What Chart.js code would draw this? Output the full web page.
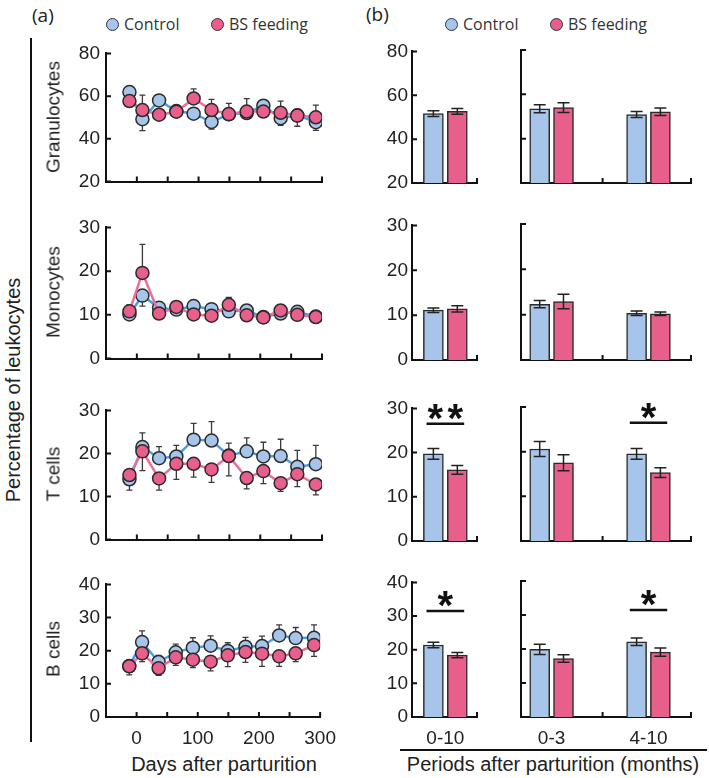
<!DOCTYPE html>
<html>
<head>
<meta charset="utf-8">
<script src="https://cdn.jsdelivr.net/npm/chart.js@4.4.1/dist/chart.umd.min.js"></script>
<style>
  body { margin: 0; background: #fff; }
  #fig { position: relative; width: 709px; height: 778px; overflow: hidden;
         font-family: "Liberation Sans", Arial, sans-serif; color: #222; }
  #fig canvas { position: absolute; }
  .txt { position: absolute; white-space: nowrap; line-height: 1; }
  .rot { position: absolute; white-space: nowrap; line-height: 1;
         transform: translate(-50%, -50%) rotate(-90deg); }
  .leg { position: absolute; display: flex; align-items: center; height: 20px;
         font-family: "Open Sans", sans-serif; font-size: 16px; color: #333; }
  .dot { width: 11px; height: 11px; border-radius: 50%; border: 1.5px solid #333; margin-right: 5px; }
  .hline { position: absolute; background: #111; }
</style>
</head>
<body>
<div id="fig">
  <div class="txt" style="left:32px;top:5px;font-family:'Open Sans',sans-serif;font-size:19px;line-height:20px;">(a)</div>
  <div class="txt" style="left:366px;top:4px;font-family:'Open Sans',sans-serif;font-size:19px;line-height:20px;">(b)</div>

  <div class="leg" style="left:106px;top:14px;"><span class="dot" style="background:#a7c5ea"></span>Control</div>
  <div class="leg" style="left:211px;top:14px;"><span class="dot" style="background:#e85f8c"></span>BS feeding</div>
  <div class="leg" style="left:445px;top:14px;"><span class="dot" style="background:#a7c5ea"></span>Control</div>
  <div class="leg" style="left:550px;top:14px;"><span class="dot" style="background:#e85f8c"></span>BS feeding</div>

  <div class="hline" style="left:30px;top:38px;width:2px;height:704px;"></div>
  <div class="rot" style="left:13px;top:390px;font-size:20px;">Percentage of leukocytes</div>

  <div class="txt" style="left:124px;top:754px;width:200px;text-align:center;font-size:20px;">Days after parturition</div>
  <div class="hline" style="left:400px;top:749px;width:307px;height:2px;"></div>
  <div class="txt" style="left:393px;top:754px;width:320px;text-align:center;font-size:20px;">Periods after parturition (months)</div>
</div>

<script>
// ---------- data: panel (a), time course ----------
const days = [-12, 9, 36, 64, 92, 121, 149, 178, 205, 233, 260, 290];
const dayTicks = [0, 100, 200, 300];

const granCtrl   = [61.9, 49.2, 58.0, 53.0, 51.8, 47.9, 51.5, 52.1, 55.5, 49.7, 51.0, 47.8];
const granCtrlSE = [1.5, 5.3, 1.5, 2.0, 2.0, 3.3, 2.0, 1.5, 1.5, 3.4, 2.5, 3.8];
const granBS     = [57.7, 53.5, 51.3, 52.7, 58.9, 53.5, 51.6, 52.8, 52.8, 52.2, 50.9, 50.1];
const granBsSE   = [1.5, 7.0, 1.5, 2.0, 4.5, 5.0, 5.0, 6.0, 1.5, 5.5, 5.0, 5.7];

const monoCtrl   = [10.1, 14.4, 11.6, 11.2, 12.0, 11.3, 10.8, 11.0, 9.5, 10.3, 10.7, 9.6];
const monoCtrlSE = [0.8, 2.4, 0.8, 0.8, 0.7, 0.7, 0.8, 0.8, 0.5, 0.8, 0.7, 0.5];
const monoBS     = [10.8, 19.6, 10.3, 11.8, 10.1, 9.8, 12.3, 9.9, 9.4, 11.0, 10.0, 9.5];
const monoBsSE   = [1.5, 6.5, 0.8, 0.9, 0.8, 0.7, 1.7, 0.7, 0.6, 1.0, 0.8, 0.6];

const tCtrl   = [14.0, 21.5, 18.9, 19.3, 23.2, 23.0, 19.5, 20.5, 19.3, 19.4, 16.9, 17.5];
const tCtrlSE = [2.5, 3.3, 2.7, 2.6, 3.8, 4.4, 2.9, 3.1, 3.3, 3.9, 3.8, 4.4];
const tBS     = [15.0, 20.5, 14.2, 17.6, 17.6, 16.3, 19.4, 14.3, 15.9, 13.1, 15.2, 12.8];
const tBsSE   = [1.0, 4.5, 2.7, 3.6, 3.1, 3.0, 4.6, 2.5, 2.9, 1.9, 2.9, 2.4];

const bCtrl   = [15.4, 22.6, 16.6, 19.5, 20.9, 21.5, 19.9, 21.2, 21.4, 24.6, 23.8, 23.9];
const bCtrlSE = [1.5, 3.4, 2.0, 2.5, 3.0, 3.0, 2.5, 2.8, 3.0, 3.2, 3.2, 3.9];
const bBS     = [15.3, 19.2, 14.7, 18.0, 17.3, 16.7, 18.6, 19.6, 19.1, 18.3, 19.2, 21.7];
const bBsSE   = [2.6, 2.5, 2.1, 2.4, 2.4, 2.8, 3.4, 3.1, 3.8, 3.0, 2.5, 3.4];

// ---------- data: panel (b), period means ----------
const periods = ['0-10', '0-3', '4-10'];

const granBarCtrl = [51.6, 53.5, 50.9], granBarCtrlSE = [1.3, 1.8, 1.3];
const granBarBS   = [52.7, 54.0, 52.1], granBarBsSE   = [1.3, 2.2, 1.7];
const monoBarCtrl = [11.1, 12.3, 10.3], monoBarCtrlSE = [0.5, 0.8, 0.5];
const monoBarBS   = [11.4, 12.9, 10.2], monoBarBsSE   = [0.7, 1.6, 0.4];
const tBarCtrl    = [19.7, 20.6, 19.5], tBarCtrlSE    = [1.2, 1.7, 1.2];
const tBarBS      = [16.1, 17.5, 15.3], tBarBsSE      = [1.0, 1.8, 1.1];
const bBarCtrl    = [21.4, 19.9, 22.1], bBarCtrlSE    = [0.8, 1.5, 1.1];
const bBarBS      = [18.4, 17.2, 19.1], bBarBsSE      = [0.8, 1.1, 1.2];

const tSig = ['**', '', '*'], tSigLevel = 26.5;
const bSig = ['*', '', '*'],  bSigLevel = 31.5;

// ---------- y tick labels ----------
const granTicks = [20, 40, 60, 80];
const monoTicks = [0, 10, 20, 30];
const tTicks    = [0, 10, 20, 30];
const bTicks    = [0, 10, 20, 30, 40];

const rows = [
  { name: 'Granulocytes', ticks: granTicks, ctrl: granCtrl, ctrlSE: granCtrlSE, bs: granBS, bsSE: granBsSE,
    barCtrl: granBarCtrl, barCtrlSE: granBarCtrlSE, barBS: granBarBS, barBsSE: granBarBsSE },
  { name: 'Monocytes', ticks: monoTicks, ctrl: monoCtrl, ctrlSE: monoCtrlSE, bs: monoBS, bsSE: monoBsSE,
    barCtrl: monoBarCtrl, barCtrlSE: monoBarCtrlSE, barBS: monoBarBS, barBsSE: monoBarBsSE },
  { name: 'T cells', ticks: tTicks, ctrl: tCtrl, ctrlSE: tCtrlSE, bs: tBS, bsSE: tBsSE,
    barCtrl: tBarCtrl, barCtrlSE: tBarCtrlSE, barBS: tBarBS, barBsSE: tBarBsSE, sig: tSig, sigLevel: tSigLevel },
  { name: 'B cells', ticks: bTicks, ctrl: bCtrl, ctrlSE: bCtrlSE, bs: bBS, bsSE: bBsSE,
    barCtrl: bBarCtrl, barCtrlSE: bBarCtrlSE, barBS: bBarBS, barBsSE: bBarBsSE, sig: bSig, sigLevel: bSigLevel }
];

// ---------- look ----------
const CTRL_FILL = '#a7c5ea', CTRL_LINE = '#4a9fe4';
const BS_FILL = '#e85f8c', BS_LINE = '#ea6e98';
const AXIS = '#111', TXT = '#222', EDGE = '#2b2b2b';
const TICK_FONT = { family: '"Liberation Sans", Arial, sans-serif', size: 19 };

// plot areas (page pixels)
const rowY = [[50, 183], [224, 360], [407, 541], [581, 717]];
const lineX = [106, 322];
const barLeftX = [412, 477], barRightX = [521, 691];

// ---------- plugins ----------
function drawErrors(chart, opts) {
  const { ctx, scales: { y } } = chart;
  const sets = chart.data.datasets;
  ctx.save();
  ctx.strokeStyle = opts.color;
  ctx.lineWidth = opts.width;
  sets.forEach((ds, di) => {
    if (!ds.errors) return;
    chart.getDatasetMeta(di).data.forEach((el, j) => {
      const v = ds.data[j].y, e = ds.errors[j];
      let up = true, down = true;
      if (opts.oneSided) {
        const o = sets[1 - di].data[j].y;
        up = v > o || (v === o && ds.label === 'Control');
        down = !up;
      }
      const x = el.x, y0 = y.getPixelForValue(v);
      const yt = up ? y.getPixelForValue(v + e) : y0;
      const yb = down ? y.getPixelForValue(v - e) : y0;
      ctx.beginPath();
      ctx.moveTo(x, yt); ctx.lineTo(x, yb);
      if (up) { ctx.moveTo(x - opts.cap, yt); ctx.lineTo(x + opts.cap, yt); }
      if (down) { ctx.moveTo(x - opts.cap, yb); ctx.lineTo(x + opts.cap, yb); }
      ctx.stroke();
    });
  });
  ctx.restore();
}

const errorBars = {
  id: 'errorBars',
  beforeDatasetsDraw(chart, args, opts) { if (opts.behind) drawErrors(chart, opts); },
  afterDatasetsDraw(chart, args, opts) { if (!opts.behind) drawErrors(chart, opts); }
};

// tick marks pointing into the plot
const innerTicks = {
  id: 'innerTicks',
  afterDraw(chart, args, opts) {
    const { ctx, chartArea: a, scales: { x, y } } = chart;
    ctx.save();
    ctx.strokeStyle = AXIS;
    ctx.lineWidth = 2;
    ctx.beginPath();
    y.ticks.forEach(t => {
      const p = y.getPixelForValue(t.value);
      ctx.moveTo(a.left, p); ctx.lineTo(a.left + opts.len, p);
    });
    const xs = opts.xTicks || x.ticks.map(t => t.value);
    xs.forEach(v => {
      const p = x.getPixelForValue(v);
      ctx.moveTo(p, a.bottom); ctx.lineTo(p, a.bottom - opts.len);
    });
    ctx.stroke();
    ctx.restore();
  }
};

// significance bars with asterisks
const sigMarks = {
  id: 'sigMarks',
  afterDatasetsDraw(chart, args, opts) {
    if (!opts.marks) return;
    const { ctx, scales: { x, y } } = chart;
    const py = y.getPixelForValue(opts.level);
    ctx.save();
    ctx.strokeStyle = AXIS; ctx.fillStyle = AXIS; ctx.lineWidth = 2.5;
    ctx.font = 'bold 40px "Liberation Sans", Arial, sans-serif';
    ctx.textAlign = 'center'; ctx.textBaseline = 'alphabetic';
    opts.marks.forEach(m => {
      if (!m.text) return;
      ctx.beginPath();
      ctx.moveTo(x.getPixelForValue(m.x - opts.half), py);
      ctx.lineTo(x.getPixelForValue(m.x + opts.half), py);
      ctx.stroke();
      const n = m.text.length, cx = x.getPixelForValue(m.x);
      for (let k = 0; k < n; k++) ctx.fillText('*', cx + (k - (n - 1) / 2) * opts.gap, py + opts.dy);
    });
    ctx.restore();
  }
};

// ---------- helpers ----------
function makeCanvas(left, top, w, h) {
  const cv = document.createElement('canvas');
  cv.width = w; cv.height = h;
  cv.style.left = left + 'px'; cv.style.top = top + 'px';
  cv.style.width = w + 'px'; cv.style.height = h + 'px';
  document.getElementById('fig').appendChild(cv);
  return cv;
}

function yScale(ticks, showLabels, width, pad) {
  return {
    min: ticks[0], max: ticks[ticks.length - 1],
    grid: { display: false, drawTicks: false },
    border: { display: true, color: AXIS, width: 2 },
    ticks: { display: showLabels, stepSize: ticks[1] - ticks[0], padding: pad, font: TICK_FONT, color: TXT },
    afterFit: s => { s.width = width; }
  };
}

function lineChart(row, r, last) {
  const [top, bottom] = rowY[r];
  const yW = 56, padT = 14, padR = 24, padB = 12, xH = last ? 40 : 4;
  const cv = makeCanvas(lineX[0] - yW, top - padT, yW + lineX[1] - lineX[0] + padR, padT + bottom - top + xH + padB);
  const pts = arr => days.map((d, i) => ({ x: d, y: arr[i] }));
  new Chart(cv, {
    type: 'line',
    data: {
      datasets: [
        { label: 'BS feeding', data: pts(row.bs), errors: row.bsSE,
          borderColor: BS_LINE, borderWidth: 2.5, pointBackgroundColor: BS_FILL,
          pointBorderColor: EDGE, pointBorderWidth: 1.5, pointRadius: 6.5, tension: 0 },
        { label: 'Control', data: pts(row.ctrl), errors: row.ctrlSE,
          borderColor: CTRL_LINE, borderWidth: 2.5, pointBackgroundColor: CTRL_FILL,
          pointBorderColor: EDGE, pointBorderWidth: 1.5, pointRadius: 6.5, tension: 0 }
      ]
    },
    options: {
      responsive: false, animation: false, events: [],
      layout: { padding: { top: padT, right: padR, bottom: padB, left: 0 } },
      plugins: {
        legend: { display: false }, tooltip: { enabled: false },
        errorBars: { behind: true, oneSided: true, cap: 3, color: '#3a3a3a', width: 1.3 },
        innerTicks: { len: 5 }
      },
      scales: {
        x: {
          type: 'linear', min: -50, max: 300, offset: false,
          grid: { display: false, drawTicks: false },
          border: { display: true, color: AXIS, width: 2 },
          ticks: { display: last, stepSize: 50, autoSkip: false, maxRotation: 0, padding: 10,
                   font: TICK_FONT, color: TXT, callback: v => dayTicks.includes(v) ? v : '' },
          afterFit: s => { s.height = xH; }
        },
        y: yScale(row.ticks, true, yW, 6)
      }
    },
    plugins: [errorBars, innerTicks]
  });
}

function barChart(row, r, side, last) {
  const [top, bottom] = rowY[r];
  const isLeft = side === 'left';
  const idx = isLeft ? [0] : [1, 2];
  const groups = isLeft ? [1.95] : [1.8, 7.5];
  const xMax = isLeft ? 3.8 : 10;
  const [aL, aR] = isLeft ? barLeftX : barRightX;
  const yW = isLeft ? 56 : 6, padT = 14, padR = isLeft ? 10 : 12, padB = 12, xH = last ? 40 : 4;
  const cv = makeCanvas(aL - yW, top - padT, yW + aR - aL + padR, padT + bottom - top + xH + padB);
  const off = 0.7;
  const bars = (vals, shift) => groups.map((g, k) => ({ x: g + shift, y: vals[idx[k]] }));
  const common = { borderColor: EDGE, borderWidth: 1.5, barThickness: 20, grouped: false };
  new Chart(cv, {
    type: 'bar',
    data: {
      datasets: [
        Object.assign({ label: 'Control', data: bars(row.barCtrl, -off), errors: idx.map(i => row.barCtrlSE[i]),
          backgroundColor: CTRL_FILL }, common),
        Object.assign({ label: 'BS feeding', data: bars(row.barBS, off), errors: idx.map(i => row.barBsSE[i]),
          backgroundColor: BS_FILL }, common)
      ]
    },
    options: {
      responsive: false, animation: false, events: [],
      layout: { padding: { top: padT, right: padR, bottom: padB, left: 0 } },
      plugins: {
        legend: { display: false }, tooltip: { enabled: false },
        errorBars: { behind: false, oneSided: false, cap: 6, color: '#222', width: 1.5 },
        innerTicks: { len: 5, xTicks: isLeft ? [xMax] : [4.8, xMax] },
        sigMarks: row.sig ? { marks: groups.map((g, k) => ({ x: g, text: row.sig[idx[k]] })),
                              level: row.sigLevel, half: 1.1, gap: 20, dy: 8 } : {}
      },
      scales: {
        x: {
          type: 'linear', min: 0, max: xMax, offset: false,
          grid: { display: false, drawTicks: false },
          border: { display: true, color: AXIS, width: 2 },
          afterBuildTicks: s => { s.ticks = groups.map(g => ({ value: g })); },
          ticks: { display: last, autoSkip: false, maxRotation: 0, padding: 10, font: TICK_FONT, color: TXT,
                   callback: (v, i) => periods[idx[i]] },
          afterFit: s => { s.height = xH; }
        },
        y: yScale(row.ticks, isLeft, yW, 4)
      }
    },
    plugins: [errorBars, innerTicks, sigMarks]
  });
}

// ---------- build ----------
const fig = document.getElementById('fig');
rows.forEach((row, r) => {
  const last = r === rows.length - 1;
  lineChart(row, r, last);
  barChart(row, r, 'left', last);
  barChart(row, r, 'right', last);
  const t = document.createElement('div');
  t.className = 'rot';
  t.style.left = '53px';
  t.style.top = ((rowY[r][0] + rowY[r][1]) / 2) + 'px';
  t.style.fontSize = '19px';
  t.textContent = row.name;
  fig.appendChild(t);
});
</script>
</body>
</html>
